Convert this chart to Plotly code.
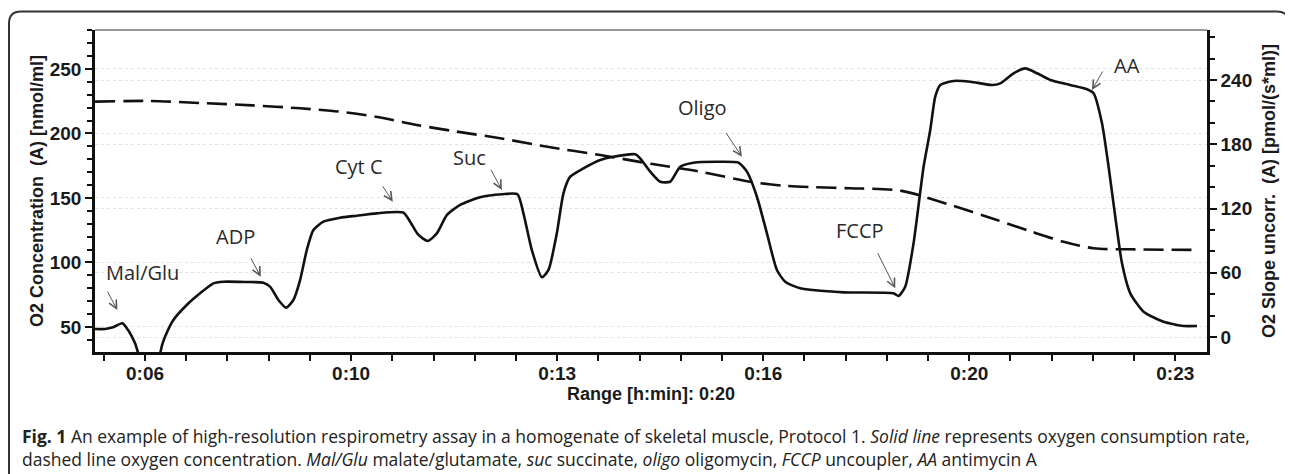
import plotly.graph_objects as go

# ---------------- data ----------------
# time in minutes
rate_t = [5.857, 6.019, 6.149, 6.299, 6.392, 6.505, 6.602, 6.748, 6.877, 6.942, 6.990, 7.125,
          7.341, 7.557, 7.772, 7.934, 8.285, 8.581, 8.689, 8.824, 8.948, 9.066, 9.175, 9.283,
          9.390, 9.552, 9.822, 10.092, 10.416, 10.846, 10.955, 11.089, 11.241, 11.387, 11.549,
          11.764, 12.087, 12.439, 12.691, 12.788, 12.924, 13.086, 13.193, 13.328, 13.435,
          13.544, 13.759, 14.029, 14.244, 14.595, 14.676, 14.838, 15.000, 15.162, 15.324,
          15.539, 15.971, 16.267, 16.403, 16.565, 16.727, 16.888, 17.023, 17.265, 17.966,
          18.775, 18.856, 18.964, 19.099, 19.261, 19.369, 19.450, 19.531, 19.746, 20.016,
          20.367, 20.502, 20.717, 20.906, 21.096, 21.311, 21.634, 21.905, 22.011, 22.147,
          22.254, 22.362, 22.471, 22.605, 22.820, 23.144, 23.468, 23.684]
# O2 slope (oxygen consumption rate), pmol/(s*ml)
rate_v = [7.5, 7.5, 9.1, 12.8, 6.5, -5.9, -21.5, -26.0, -21.5, -7.5, 0.3, 15.9,
          29.9, 40.8, 50.1, 51.6, 51.4, 50.7, 47.0, 34.6, 27.4, 34.6, 53.2, 81.2,
          99.9, 107.7, 111.4, 113.3, 115.5, 116.1, 107.7, 95.3, 89.7, 96.8, 113.9,
          123.3, 130.5, 133.3, 133.3, 115.5, 81.2, 55.8, 62.6, 96.8, 134.2,
          149.7, 157.5, 165.3, 168.4, 170.6, 166.9, 154.4, 145.0, 145.0, 159.0,
          162.8, 163.7, 162.8, 154.4, 131.0, 96.8, 62.6, 51.6, 45.5, 41.7,
          40.8, 38.3, 47.0, 87.5, 159.0, 193.3, 224.4, 235.3, 239.1, 238.4,
          235.3, 236.9, 246.3, 250.9, 246.3, 240.0, 235.3, 231.3, 227.6, 199.6,
          159.0, 112.3, 68.8, 40.8, 23.6, 14.3, 10.3, 10.3]

# O2 concentration, nmol/ml
conc_t = [5.857, 6.748, 7.557, 8.400, 9.175, 9.800, 10.400, 11.063, 11.700, 12.411, 13.200,
          14.029, 14.850, 15.647, 16.456, 17.000, 17.500, 18.074, 18.883, 19.693, 20.448,
          21.000, 21.526, 22.011, 22.600, 23.684]
conc_v = [224.7, 225.2, 223.6, 221.8, 219.5, 217.0, 213.0, 206.6, 201.5, 196.3, 189.5,
          183.3, 176.5, 170.4, 162.6, 159.5, 158.3, 157.5, 155.7, 144.6, 132.9,
          124.0, 116.1, 111.0, 110.2, 109.7]

tick_vals = [6.6667, 10.0, 13.3333, 16.6667, 20.0, 23.3333]
tick_text = ["0:06", "0:10", "0:13", "0:16", "0:20", "0:23"]

# injections: label, arrow tip (time, rate), label position (time, rate), arrow tail offset (px)
events = ["Mal/Glu", "ADP", "Cyt C", "Suc", "Oligo", "FCCP", "AA"]
event_tip_t = [6.218, 8.539, 10.675, 12.439, 16.322, 18.803, 21.985]
event_tip_v = [25.2, 56.3, 126.4, 137.3, 168.4, 45.5, 230.7]
label_t = [6.618, 8.123, 10.129, 11.921, 15.684, 18.236, 22.557]
label_v = [60.7, 93.4, 158.8, 168.1, 213.9, 99.3, 253.4]
tail_dx = [-10.6, -10.7, -11.0, -11.7, -16.7, -18.3, 11.6]
tail_dy = [-20.0, -20.0, -16.7, -21.7, -25.0, -36.6, -20.0]

# ---------------- figure ----------------
OFF = 8  # the page body places the figure 8px from the top-left corner
W, H = 1293 - OFF, 474 - OFF
L_, R_, T_, B_ = 95 - OFF, 86, 30 - OFF, 122
pw, ph = W - L_ - R_, H - T_ - B_


def px(x, y):
    """reference-image pixel -> paper coordinates"""
    x -= OFF
    y -= OFF
    return (x - L_) / pw, (H - B_ - y) / ph


fig = go.Figure()
fig.add_trace(go.Scatter(x=conc_t, y=conc_v, mode="lines", yaxis="y",
                         line=dict(color="#111111", width=2.6, dash="20px,8px",
                                   shape="spline", smoothing=0.8),
                         showlegend=False, hoverinfo="skip"))
fig.add_trace(go.Scatter(x=rate_t, y=rate_v, mode="lines", yaxis="y2",
                         line=dict(color="#111111", width=2.6, shape="spline", smoothing=0.6),
                         showlegend=False, hoverinfo="skip"))

tickfont = dict(family="Liberation Sans, Arial", size=19, color="#1a1a1a", weight="bold")
titlefont = dict(family="Liberation Sans, Arial", size=18, color="#1a1a1a", weight="bold")

fig.update_layout(
    width=W, height=H,
    margin=dict(l=L_, r=R_, t=T_, b=B_),
    paper_bgcolor="white", plot_bgcolor="white",
    xaxis=dict(range=[5.857, 23.846], tickmode="array", tickvals=tick_vals, ticktext=tick_text,
               showline=True, linecolor="#111", linewidth=2.5, ticks="outside", ticklen=6,
               tickwidth=2, tickcolor="#111", tickfont=tickfont, showgrid=False, zeroline=False,
               ticklabelstandoff=-4,
               minor=dict(tickmode="linear", tick0=10, dtick=2 / 3, ticks="outside", ticklen=6,
                          tickwidth=2, tickcolor="#111"),
               title=dict(text="Range [h:min]: 0:20", font=titlefont, standoff=2)),
    yaxis=dict(range=[30.6, 280.2], tickmode="linear", tick0=50, dtick=50,
               showline=True, linecolor="#111", linewidth=2.5, ticks="outside", ticklen=7,
               tickwidth=2, tickcolor="#111", tickfont=tickfont,
               showgrid=True, gridcolor="#e2e2e2", griddash="dot", gridwidth=1, zeroline=False,
               minor=dict(dtick=10, ticks="outside", ticklen=5, tickwidth=2, tickcolor="#111"),
               title=dict(text="O2 Concentration\u00a0\u00a0(A) [nmol/ml]", font=titlefont,
                          standoff=2)),
    yaxis2=dict(range=[-14.0, 286.7], overlaying="y", side="right", tickmode="linear", tick0=0,
                dtick=60, showline=True, linecolor="#111", linewidth=2.5, ticks="outside",
                ticklen=7, tickwidth=2, tickcolor="#111", tickfont=tickfont,
                showgrid=True, gridcolor="#e2e2e2", griddash="dot", gridwidth=1, zeroline=False,
                minor=dict(dtick=20, ticks="outside", ticklen=5, tickwidth=2, tickcolor="#111"),
                title=dict(text="O2 Slope uncorr.\u00a0\u00a0(A) [pmol/(s*ml)]", font=titlefont,
                           standoff=12)),
)

# top border of plot area (grey)
fig.add_shape(type="line", xref="paper", yref="paper", x0=0, x1=1, y0=1, y1=1,
              line=dict(color="#777777", width=1.5))

# rounded frame
r = 12
xl, xr, yt, yb = 9, 1289, 11.5, 490
pts = {
    "a": px(xl, yb), "b": px(xl, yt + r), "c": px(xl, yt), "d": px(xl + r, yt),
    "e": px(xr - r, yt), "f": px(xr, yt), "g": px(xr, yt + r), "h": px(xr, yb),
}
path = ("M {a[0]},{a[1]} L {b[0]},{b[1]} Q {c[0]},{c[1]} {d[0]},{d[1]} L {e[0]},{e[1]} "
        "Q {f[0]},{f[1]} {g[0]},{g[1]} L {h[0]},{h[1]}").format(**pts)
fig.add_shape(type="path", xref="paper", yref="paper", path=path,
              line=dict(color="#333333", width=2))

labfont = dict(family="Open Sans", size=20, color="#2a2a2a")
for i, name in enumerate(events):
    fig.add_annotation(x=label_t[i], y=label_v[i], xref="x", yref="y2", text=name,
                       showarrow=False, font=labfont, xanchor="center", yanchor="middle")
    fig.add_annotation(x=event_tip_t[i], y=event_tip_v[i], xref="x", yref="y2", text="",
                       showarrow=True, ax=tail_dx[i], ay=tail_dy[i], axref="pixel", ayref="pixel",
                       arrowhead=5, arrowsize=1.6, arrowwidth=1.0, arrowcolor="#555555",
                       font=dict(size=1))

capfont = dict(family="Open Sans", size=17.5, color="#222222")
cx, cy1 = px(20, 436)
_, cy2 = px(20, 459)
fig.add_annotation(xref="paper", yref="paper", x=cx, y=cy1, xanchor="left", yanchor="middle",
                   showarrow=False, font=capfont,
                   text="<b>Fig. 1</b> An example of high-resolution respirometry assay in a homogenate "
                        "of skeletal muscle, Protocol 1. <i>Solid line</i> represents oxygen consumption rate,")
fig.add_annotation(xref="paper", yref="paper", x=cx, y=cy2, xanchor="left", yanchor="middle",
                   showarrow=False, font=capfont,
                   text="dashed line oxygen concentration. <i>Mal/Glu</i> malate/glutamate, <i>suc</i> "
                        "succinate, <i>oligo</i> oligomycin, <i>FCCP</i> uncoupler, <i>AA</i> antimycin A")

fig.write_html("out.html")
